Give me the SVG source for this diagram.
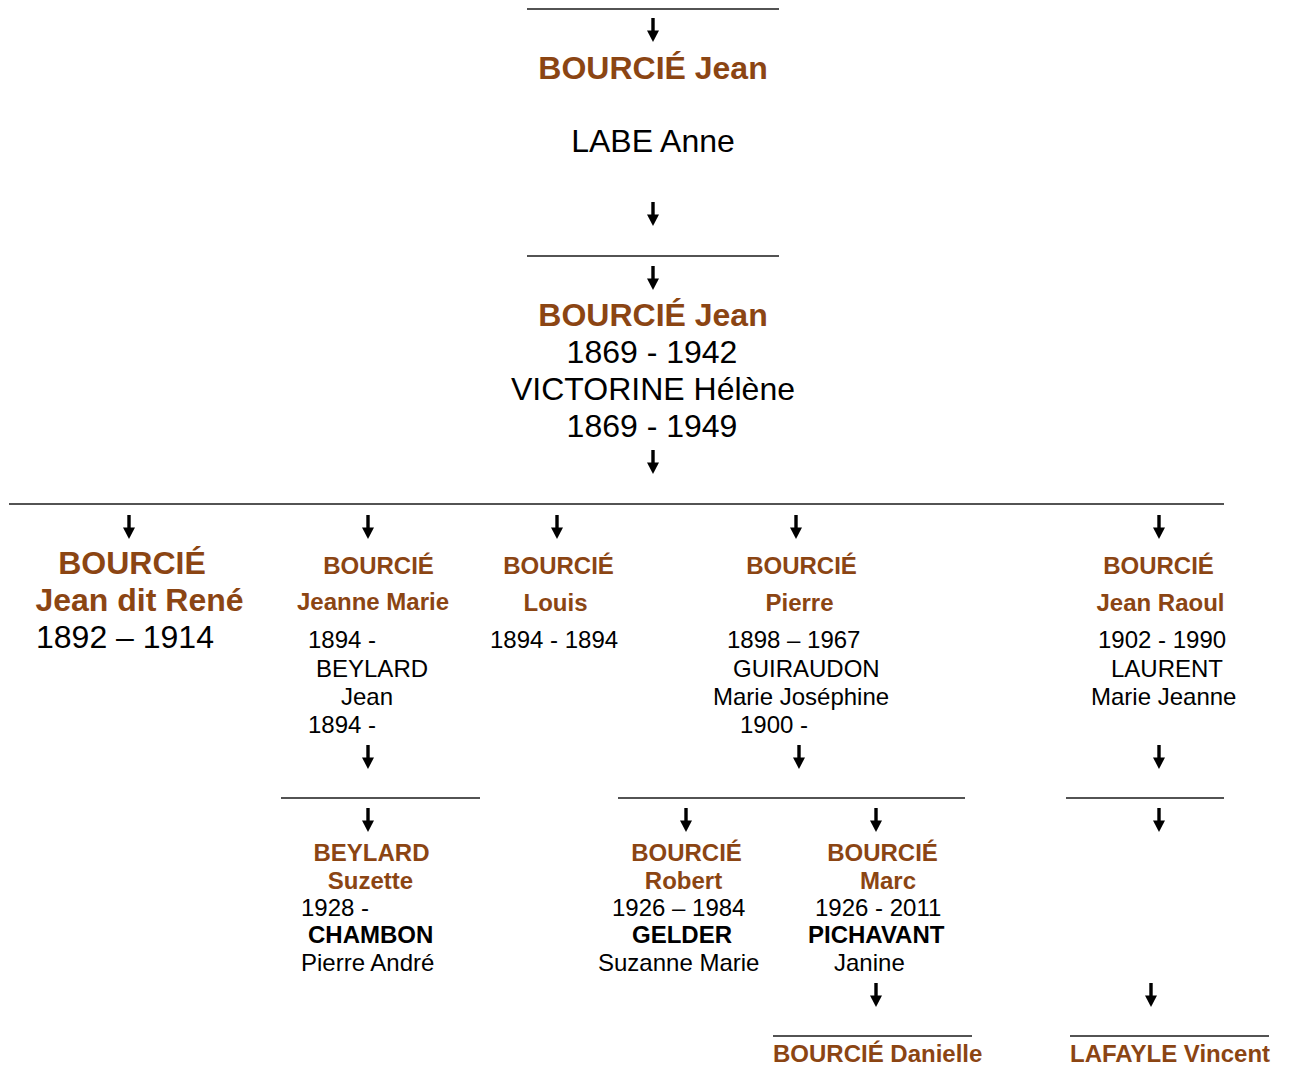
<svg xmlns="http://www.w3.org/2000/svg" xmlns:xlink="http://www.w3.org/1999/xlink" width="1289" height="1066" viewBox="0 0 1289 1066">
<style>
text{font-family:"Liberation Sans",Arial,sans-serif;fill:#000}
.b{font-weight:bold;fill:#8B4513}
.k{font-weight:bold;fill:#000}
.L{font-size:32px}
.S{font-size:24px}
.c{text-anchor:middle}
.ln{stroke:#1a1a1a;stroke-width:1.4}
</style>
<defs>
<g id="arr"><rect x="-1.7" y="0" width="3.4" height="14" fill="#000"/><polygon points="-6,12.5 6,12.5 0,24" fill="#000"/></g>
</defs>
<rect width="1289" height="1066" fill="#fff"/>
<g id="connectors">
<line class="ln" x1="527" y1="9" x2="779" y2="9"/>
<use xlink:href="#arr" x="653" y="18"/>
<use xlink:href="#arr" x="653" y="202"/>
<line class="ln" x1="527" y1="256" x2="779" y2="256"/>
<use xlink:href="#arr" x="653" y="266"/>
<use xlink:href="#arr" x="653" y="450"/>
<line class="ln" x1="9" y1="504" x2="1224" y2="504"/>
<use xlink:href="#arr" x="129" y="515"/>
<use xlink:href="#arr" x="368" y="515"/>
<use xlink:href="#arr" x="557" y="515"/>
<use xlink:href="#arr" x="796" y="515"/>
<use xlink:href="#arr" x="1159" y="515"/>
<use xlink:href="#arr" x="368" y="745"/>
<use xlink:href="#arr" x="799" y="745"/>
<use xlink:href="#arr" x="1159" y="745"/>
<line class="ln" x1="281" y1="798" x2="480" y2="798"/>
<line class="ln" x1="618" y1="798" x2="965" y2="798"/>
<line class="ln" x1="1066" y1="798" x2="1224" y2="798"/>
<use xlink:href="#arr" x="368" y="808"/>
<use xlink:href="#arr" x="686" y="808"/>
<use xlink:href="#arr" x="876" y="808"/>
<use xlink:href="#arr" x="1159" y="808"/>
<use xlink:href="#arr" x="876" y="983"/>
<use xlink:href="#arr" x="1151" y="983"/>
<line class="ln" x1="773" y1="1036" x2="972" y2="1036"/>
<line class="ln" x1="1070" y1="1036" x2="1269" y2="1036"/>
</g>
<g id="n-jean-labe">
<text class="b L c" x="653" y="79">BOURCIÉ Jean</text>
<text class="L c" x="653" y="152">LABE Anne</text>
</g>
<g id="n-jean-victorine">
<text class="b L c" x="653" y="326">BOURCIÉ Jean</text>
<text class="L c" x="652" y="363">1869 - 1942</text>
<text class="L c" x="653" y="400">VICTORINE Hélène</text>
<text class="L c" x="652" y="437">1869 - 1949</text>
</g>
<g id="n-rene">
<text class="b L c" x="132" y="574">BOURCIÉ</text>
<text class="b L c" x="139.5" y="611">Jean dit René</text>
<text class="L" x="36" y="648">1892 – 1914</text>
</g>
<g id="n-jeanne-marie">
<text class="b S c" x="378.5" y="574">BOURCIÉ</text>
<text class="b S c" x="373" y="610">Jeanne Marie</text>
<text class="S" x="308" y="648">1894 -</text>
<text class="S" x="316" y="677">BEYLARD</text>
<text class="S" x="341" y="705">Jean</text>
<text class="S" x="308" y="733">1894 -</text>
</g>
<g id="n-louis">
<text class="b S c" x="558.5" y="574">BOURCIÉ</text>
<text class="b S c" x="555.5" y="611">Louis</text>
<text class="S" x="490" y="648">1894 - 1894</text>
</g>
<g id="n-pierre">
<text class="b S c" x="801.5" y="574">BOURCIÉ</text>
<text class="b S c" x="799.5" y="611">Pierre</text>
<text class="S" x="727" y="648">1898 – 1967</text>
<text class="S" x="733" y="677">GUIRAUDON</text>
<text class="S" x="713" y="705">Marie Joséphine</text>
<text class="S" x="740" y="733">1900 -</text>
</g>
<g id="n-jean-raoul">
<text class="b S c" x="1158.5" y="574">BOURCIÉ</text>
<text class="b S c" x="1160.5" y="611">Jean Raoul</text>
<text class="S" x="1098" y="648">1902 - 1990</text>
<text class="S" x="1111" y="677">LAURENT</text>
<text class="S" x="1091" y="705">Marie Jeanne</text>
</g>
<g id="n-suzette">
<text class="b S c" x="371.5" y="861">BEYLARD</text>
<text class="b S c" x="370.5" y="889">Suzette</text>
<text class="S" x="301" y="916">1928 -</text>
<text class="k S" x="308" y="943">CHAMBON</text>
<text class="S" x="301" y="971">Pierre André</text>
</g>
<g id="n-robert">
<text class="b S c" x="686.5" y="861">BOURCIÉ</text>
<text class="b S c" x="683.5" y="889">Robert</text>
<text class="S" x="612" y="916">1926 – 1984</text>
<text class="k S" x="632" y="943">GELDER</text>
<text class="S" x="598" y="971">Suzanne Marie</text>
</g>
<g id="n-marc">
<text class="b S c" x="882.5" y="861">BOURCIÉ</text>
<text class="b S c" x="888" y="889">Marc</text>
<text class="S" x="815" y="916">1926 - 2011</text>
<text class="k S" x="808" y="943">PICHAVANT</text>
<text class="S" x="834" y="971">Janine</text>
</g>
<g id="n-danielle">
<text class="b S" x="773" y="1062">BOURCIÉ Danielle</text>
</g>
<g id="n-vincent">
<text class="b S" x="1070" y="1062">LAFAYLE Vincent</text>
</g>
</svg>
